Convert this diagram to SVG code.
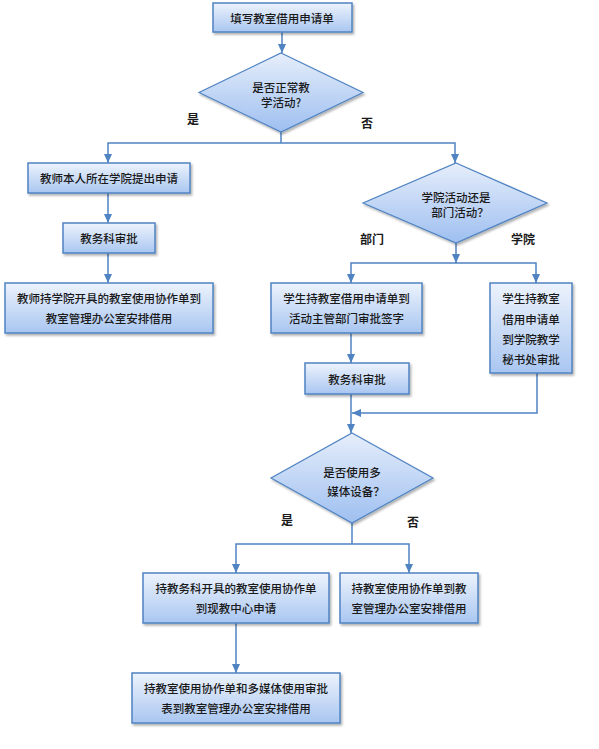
<svg xmlns="http://www.w3.org/2000/svg" width="599" height="749" viewBox="0 0 599 749">
<style>
.box{fill:url(#g1);stroke:#4f83c2;stroke-width:1.5;filter:url(#sh)}
.dia{fill:url(#g2);stroke:#4f83c2;stroke-width:1.2;filter:url(#sh)}
text{font-family:"Noto Sans CJK SC","Liberation Sans",sans-serif;font-size:11.5px;font-weight:500;fill:#1a1a1a;text-anchor:middle;dominant-baseline:central}
.lbl{font-weight:bold;font-size:12px}
.c{fill:none;stroke:#4f83c2;stroke-width:1.5;marker-end:url(#ah)}
.n{fill:none;stroke:#4f83c2;stroke-width:1.5}
</style>
<defs>
<linearGradient id="g1" x1="0" y1="0" x2="0" y2="1"><stop offset="0" stop-color="#edf3fc"/><stop offset="1" stop-color="#a9c6f1"/></linearGradient>
<linearGradient id="g2" x1="0" y1="0" x2="0" y2="1"><stop offset="0" stop-color="#e6eefb"/><stop offset="1" stop-color="#9ebff0"/></linearGradient>
<filter id="sh" x="-10%" y="-10%" width="130%" height="140%"><feDropShadow dx="1.5" dy="2" stdDeviation="1.2" flood-color="#000" flood-opacity="0.3"/></filter>
<marker id="ah" markerWidth="9" markerHeight="8" refX="9" refY="4" orient="auto" markerUnits="userSpaceOnUse"><path d="M0,0 L9,4 L0,8 z" fill="#4f83c2"/></marker>
</defs>
<g id="connectors">
<path class="c" d="M282,32 V53"/>
<path class="n" d="M281,132 V143"/>
<path class="c" d="M281,143 H108 V163"/>
<path class="c" d="M281,143 H455 V163"/>
<path class="c" d="M108,193 V223"/>
<path class="c" d="M108,253 V283"/>
<path class="c" d="M456,243 V263"/>
<path class="c" d="M456,263 H351 V283"/>
<path class="c" d="M456,263 H536 V283"/>
<path class="c" d="M351,333 V363"/>
<path class="c" d="M351,394 V433"/>
<path class="c" d="M537,373 V413 H352"/>
<path class="n" d="M352,523 V544"/>
<path class="c" d="M352,544 H236 V573"/>
<path class="c" d="M352,544 H409 V573"/>
<path class="c" d="M236,623 V673"/>
</g>
<g id="labels">
<text class="lbl" x="193" y="118">是</text>
<text class="lbl" x="367" y="122">否</text>
<text class="lbl" x="372" y="238">部门</text>
<text class="lbl" x="523" y="238">学院</text>
<text class="lbl" x="287" y="519">是</text>
<text class="lbl" x="413" y="521">否</text>
</g>
<g id="n1"><rect class="box" x="213" y="3" width="139" height="29"/><text x="282" y="17.5">填写教室借用申请单</text></g>
<g id="d1"><polygon class="dia" points="281,53 363,92.5 281,132 199,92.5"/><text x="281" y="87">是否正常教</text><text x="281" y="102">学活动?</text></g>
<g id="n2"><rect class="box" x="28" y="163" width="162" height="30"/><text x="109" y="178">教师本人所在学院提出申请</text></g>
<g id="n3"><rect class="box" x="63" y="223" width="92" height="30"/><text x="109" y="238">教务科审批</text></g>
<g id="n4"><rect class="box" x="5" y="283" width="208" height="50"/><text x="109" y="298">教师持学院开具的教室使用协作单到</text><text x="109" y="318">教室管理办公室安排借用</text></g>
<g id="d2"><polygon class="dia" points="456,163 547,203 456,243 363,203"/><text x="456" y="197">学院活动还是</text><text x="460" y="212">部门活动？</text></g>
<g id="n5"><rect class="box" x="271" y="283" width="151" height="50"/><text x="346.5" y="298">学生持教室借用申请单到</text><text x="346.5" y="318">活动主管部门审批签字</text></g>
<g id="n6"><rect class="box" x="490" y="283" width="82" height="90"/><text x="531" y="298">学生持教室</text><text x="531" y="318.5">借用申请单</text><text x="531" y="339">到学院教学</text><text x="531" y="358.5">秘书处审批</text></g>
<g id="n7"><rect class="box" x="305" y="363" width="104" height="31"/><text x="357" y="378.5">教务科审批</text></g>
<g id="d3"><polygon class="dia" points="352,433 433,478 352,523 271,478"/><text x="352" y="472">是否使用多</text><text x="356" y="491">媒体设备？</text></g>
<g id="n8"><rect class="box" x="143" y="573" width="186" height="50"/><text x="236" y="588">持教务科开具的教室使用协作单</text><text x="236" y="608">到现教中心申请</text></g>
<g id="n9"><rect class="box" x="340" y="573" width="138" height="50"/><text x="409" y="588">持教室使用协作单到教</text><text x="409" y="608">室管理办公室安排借用</text></g>
<g id="n10"><rect class="box" x="132" y="673" width="208" height="50"/><text x="236" y="688">持教室使用协作单和多媒体使用审批</text><text x="236" y="708">表到教室管理办公室安排借用</text></g>
</svg>
